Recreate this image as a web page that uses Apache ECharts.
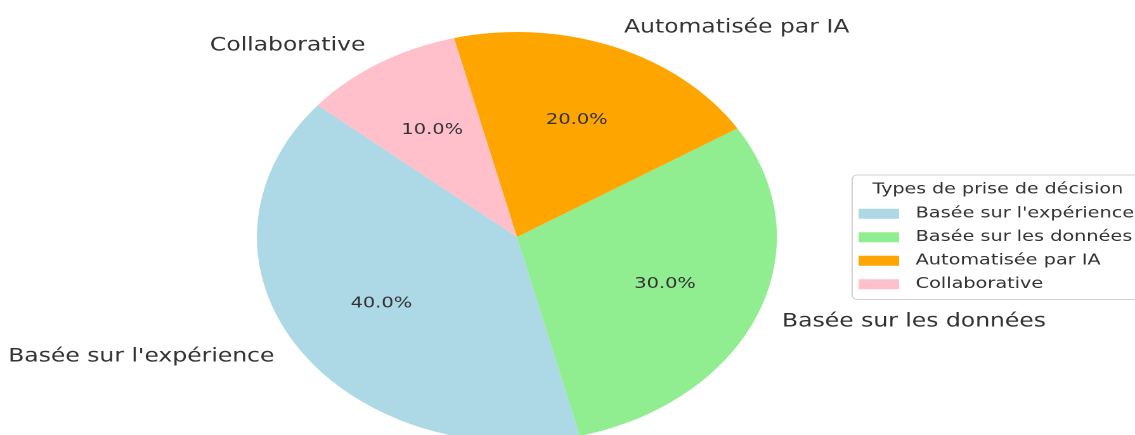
<!DOCTYPE html>
<html>
<head>
<meta charset="utf-8">
<script src="https://cdn.jsdelivr.net/npm/echarts@6/dist/echarts.min.js"></script>
<style>
html,body{margin:0;padding:0;background:#fff;overflow:hidden;}
#wrap{width:1135px;height:435px;overflow:hidden;position:relative;}
#main{width:895px;height:435px;transform:scaleX(1.26816);transform-origin:0 0;}
</style>
</head>
<body>
<div id="wrap"><div id="main"></div></div>
<script>
const categories = ["Basée sur l'expérience", "Basée sur les données", "Automatisée par IA", "Collaborative"];
const values = [40, 30, 20, 10];
const colors = ["#ADD8E6", "#90EE90", "#FFA500", "#FFC0CB"];
const legendTitle = "Types de prise de décision";

const chart = echarts.init(document.getElementById('main'), null, {renderer: 'canvas', devicePixelRatio: 2});
const FONT = 'DejaVu Sans';
const R = 205;
const center = [407.6, 237];

const mainData = categories.map((c, i) => ({name: c, value: values[i], itemStyle: {color: colors[i]}}));
const pctData = categories.map((c, i) => ({name: c, value: values[i]}));

chart.setOption({
  backgroundColor: '#ffffff',
  animation: false,
  color: colors,
  title: {
    text: legendTitle,
    left: 688,
    top: 182,
    padding: 0,
    textStyle: {fontFamily: FONT, fontSize: 15, fontWeight: 'normal', color: '#333'}
  },
  legend: {
    orient: 'vertical',
    left: 672,
    top: 175,
    data: categories,
    icon: 'rect',
    itemWidth: 32,
    itemHeight: 10,
    itemGap: 5,
    padding: [29.5, 5, 6, 5],
    borderColor: '#d0d0d0',
    borderWidth: 1,
    borderRadius: 4,
    backgroundColor: 'rgba(255,255,255,0.8)',
    textStyle: {fontFamily: FONT, fontSize: 15.2, color: '#333', lineHeight: 18.5, padding: [0, 0, 0, 8]}
  },
  series: [
    {
      type: 'pie',
      center: center,
      radius: [0, R],
      startAngle: 140,
      clockwise: false,
      avoidLabelOverlap: false,
      data: mainData,
      label: {
        show: true,
        position: 'outside',
        formatter: '{b}',
        fontFamily: FONT,
        fontSize: 18.5,
        color: '#333',
        distanceToLabelLine: 0
      },
      labelLine: {show: false, length: R * 0.1, length2: 0},
      emphasis: {disabled: true}
    },
    {
      type: 'pie',
      center: center,
      radius: [0, R * 1.2],
      startAngle: 140,
      clockwise: false,
      silent: true,
      avoidLabelOverlap: false,
      data: pctData,
      itemStyle: {color: 'rgba(0,0,0,0)', borderWidth: 0},
      label: {
        show: true,
        position: 'inside',
        formatter: p => p.percent.toFixed(1) + '%',
        fontFamily: FONT,
        fontSize: 15.3,
        color: '#333'
      },
      labelLine: {show: false},
      emphasis: {disabled: true}
    }
  ]
});
</script>
</body>
</html>
